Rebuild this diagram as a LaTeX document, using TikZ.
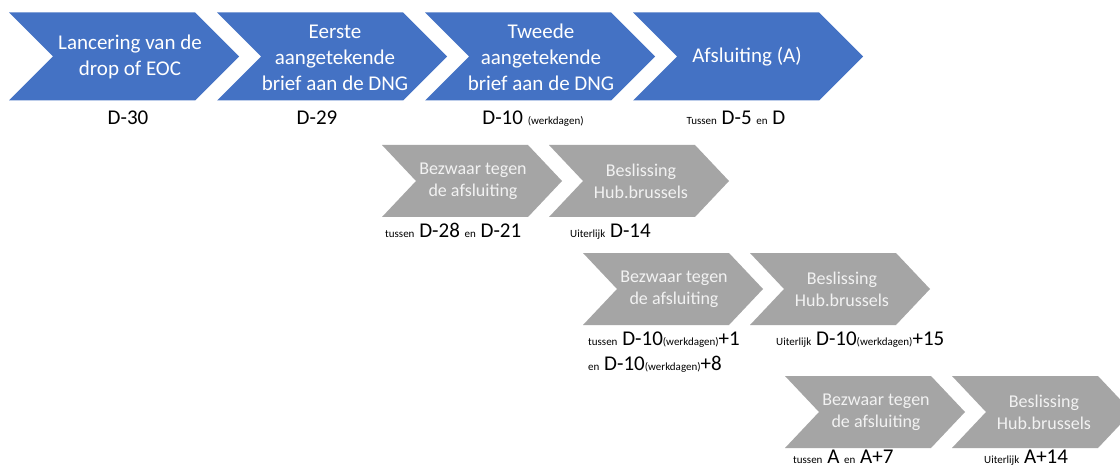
\documentclass[tikz,border=0pt]{standalone}
\usepackage{fontspec}
\setmainfont{Carlito}
\definecolor{cblue}{HTML}{4472C4}
\definecolor{cgray}{HTML}{A5A5A5}
\definecolor{ctext}{HTML}{F2F2F2}
\newcommand{\chev}[6]{\fill[#6] (#1,#2) -- ({#1+#3-#5},#2) -- ({#1+#3},{#2+#4/2}) -- ({#1+#3-#5},{#2+#4}) -- (#1,{#2+#4}) -- ({#1+#5},{#2+#4/2}) -- cycle;}
\newcommand{\sm}[1]{{\fontsize{11}{13}\selectfont #1}}
\tikzset{
  bluetxt/.style={text=white, align=center, font=\fontsize{21}{26}\selectfont, inner sep=0pt},
  graytxt/.style={text=ctext, align=center, font=\fontsize{18}{22}\selectfont, inner sep=0pt},
  lbl/.style={anchor=base, font=\fontsize{21}{25}\selectfont, inner sep=0pt},
  lblw/.style={anchor=base west, font=\fontsize{21}{25}\selectfont, inner sep=0pt},
}
\begin{document}
\begin{tikzpicture}[x=1pt,y=-1pt]
\clip (0,0) rectangle (1120,468);
\fill[white] (0,0) rectangle (1120,468);
% blue row
\chev{9}{12.5}{230}{88}{44}{cblue}
\chev{217}{12.5}{230}{88}{44}{cblue}
\chev{425}{12.5}{230}{88}{44}{cblue}
\chev{633}{12.5}{230}{88}{44}{cblue}
\node[bluetxt] (b1) at (130,56.5) {Lancering van de\\drop of EOC};
\node[bluetxt] (b2) at (335,57.5) {Eerste\\aangetekende\\brief aan de DNG};
\node[bluetxt] (b3) at (541,57.5) {Tweede\\aangetekende\\brief aan de DNG};
\node[bluetxt] (b4) at (747,56.5) {Afsluiting (A)};
\node[lbl] (l1) at (128,125) {D-30};
\node[lbl] (l2) at (317,125) {D-29};
\node[lbl] (l3) at (533,125) {D-10 \sm{(werkdagen)}};
\node[lbl] (l4) at (736,125) {\sm{Tussen} D-5 \sm{en} D};
% gray row 1
\chev{382}{145}{180}{72}{34}{cgray}
\chev{549}{145}{180}{72}{34}{cgray}
\node[graytxt] (g11) at (473,181) {Bezwaar tegen\\de afsluiting};
\node[graytxt] (g12) at (641,181) {Beslissing\\Hub.brussels};
\node[lblw] (m11) at (385,237) {\sm{tussen} D-28 \sm{en} D-21};
\node[lblw] (m12) at (570,237) {\sm{Uiterlijk} D-14};
% gray row 2
\chev{583}{253}{180}{72}{34}{cgray}
\chev{750}{253}{180}{72}{34}{cgray}
\node[graytxt] (g21) at (674,289) {Bezwaar tegen\\de afsluiting};
\node[graytxt] (g22) at (842,289) {Beslissing\\Hub.brussels};
\node[lblw] (m21) at (588,345) {\sm{tussen} D-10\sm{(werkdagen)}+1};
\node[lblw] (m22) at (588,370) {\sm{en} D-10\sm{(werkdagen)}+8};
\node[lblw] (m23) at (776,345) {\sm{Uiterlijk} D-10\sm{(werkdagen)}+15};
% gray row 3
\chev{785}{376}{180}{72}{34}{cgray}
\chev{952}{376}{180}{72}{34}{cgray}
\node[graytxt] (g31) at (876,412) {Bezwaar tegen\\de afsluiting};
\node[graytxt] (g32) at (1044,412) {Beslissing\\Hub.brussels};
\node[lblw] (m31) at (793,463) {\sm{tussen} A \sm{en} A+7};
\node[lblw] (m32) at (984,463) {\sm{Uiterlijk} A+14};
\end{tikzpicture}
\end{document}
